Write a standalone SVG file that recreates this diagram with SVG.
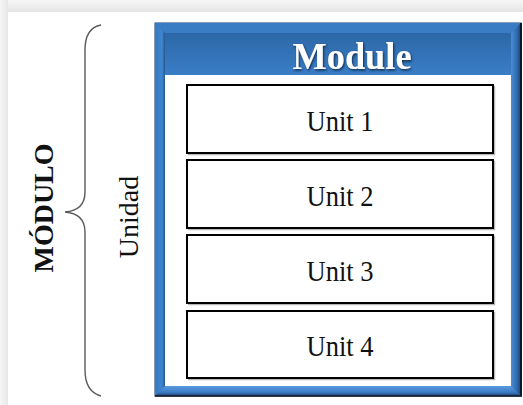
<svg xmlns="http://www.w3.org/2000/svg" width="523" height="405" viewBox="0 0 523 405">
  <defs>
    <linearGradient id="topShade" x1="0" y1="0" x2="0" y2="1">
      <stop offset="0" stop-color="#f6f6f6"/>
      <stop offset="1" stop-color="#e4e4e4"/>
    </linearGradient>
    <linearGradient id="leftShade" x1="0" y1="0" x2="1" y2="0">
      <stop offset="0" stop-color="#f6f6f6"/>
      <stop offset="1" stop-color="#e6e6e6"/>
    </linearGradient>
    <linearGradient id="headerFill" x1="0" y1="0" x2="0" y2="1">
      <stop offset="0" stop-color="#2c67a6"/>
      <stop offset="1" stop-color="#3a7ec7"/>
    </linearGradient>
    <linearGradient id="rightBevel" x1="0" y1="0" x2="1" y2="0">
      <stop offset="0" stop-color="#4a8cd4"/>
      <stop offset="0.6" stop-color="#2d6aae"/>
      <stop offset="1" stop-color="#1b3f6e"/>
    </linearGradient>
    <linearGradient id="bottomBevel" x1="0" y1="0" x2="0" y2="1">
      <stop offset="0" stop-color="#5a9be0"/>
      <stop offset="0.6" stop-color="#3b7ec6"/>
      <stop offset="1" stop-color="#1d4272"/>
    </linearGradient>
    <linearGradient id="leftBevel" x1="0" y1="0" x2="1" y2="0">
      <stop offset="0" stop-color="#3479c2"/>
      <stop offset="0.7" stop-color="#3f85cf"/>
      <stop offset="1" stop-color="#24588f"/>
    </linearGradient>
    <filter id="titleShadow" x="-10%" y="-20%" width="120%" height="140%">
      <feDropShadow dx="1" dy="1.5" stdDeviation="0.8" flood-color="#0d2240" flood-opacity="0.9"/>
    </filter>
  </defs>
  <style>
    .unit { fill: #ffffff; stroke: #000000; stroke-width: 2; }
    .unitShadow { fill: none; stroke: #b8b8b8; stroke-width: 1.5; }
    .unitLabel { font-family: "Liberation Serif", "Times New Roman", serif; font-size: 30px; fill: #111111; text-anchor: middle; }
    .title { font-family: "Liberation Serif", "Times New Roman", serif; font-size: 38px; font-weight: bold; fill: #ffffff; text-anchor: middle; }
    .sideBold { font-family: "Liberation Serif", "Times New Roman", serif; font-size: 28px; font-weight: bold; fill: #111111; text-anchor: middle; }
    .side { font-family: "Liberation Serif", "Times New Roman", serif; font-size: 28px; fill: #111111; text-anchor: middle; }
    .brace { fill: none; stroke: #5a5a5a; stroke-width: 1.4; }
  </style>

  <!-- page background with soft grey margin -->
  <rect x="0" y="0" width="523" height="405" fill="#ffffff"/>
  <rect x="0" y="0" width="523" height="12" fill="url(#topShade)"/>
  <rect x="0" y="0" width="8" height="405" fill="url(#leftShade)"/>

  <!-- side labels -->
  <g id="label-modulo">
    <text class="sideBold" transform="translate(53,208) rotate(-90)">MÓDULO</text>
  </g>
  <g id="label-unidad">
    <text class="side" transform="translate(138,217) rotate(-90)">Unidad</text>
  </g>

  <!-- curly brace spanning the module -->
  <g id="connectors">
    <path class="brace" d="M101,25 C90,27 85,35 85,50 L85,192 C85,204 78,211 65,212 C78,213 85,220 85,232 L85,370 C85,385 90,393 101,396"/>
  </g>

  <!-- module frame -->
  <g id="module">
    <rect x="155" y="23" width="366" height="373" fill="#2f73b8" stroke="#1a3a66" stroke-width="1"/>
    <!-- bevels -->
    <polygon points="155,23 521,23 511,33 165,33" fill="#3a7dc4"/>
    <polygon points="155,23 165,33 165,386 155,396" fill="url(#leftBevel)"/>
    <polygon points="521,23 521,396 511,386 511,33" fill="url(#rightBevel)"/>
    <polygon points="155,396 165,386 511,386 521,396" fill="url(#bottomBevel)"/>
    <rect x="165" y="33" width="346" height="42" fill="url(#headerFill)"/>
    <line x1="521" y1="23" x2="521" y2="396" stroke="#101826" stroke-width="2"/>
    <line x1="155" y1="396" x2="522" y2="396" stroke="#101826" stroke-width="1.5"/>
    <rect x="165" y="75" width="346" height="311" fill="#ffffff"/>
    <text class="title" x="352" y="69" textLength="119" lengthAdjust="spacingAndGlyphs" filter="url(#titleShadow)">Module</text>
  </g>

  <g id="unit-1">
    <rect class="unitShadow" x="188.5" y="86.5" width="306" height="68"/>
    <rect class="unit" x="187" y="85" width="306" height="68"/>
    <text class="unitLabel" x="340" y="131" textLength="67" lengthAdjust="spacingAndGlyphs">Unit 1</text>
  </g>
  <g id="unit-2">
    <rect class="unitShadow" x="188.5" y="161.5" width="306" height="68"/>
    <rect class="unit" x="187" y="160" width="306" height="68"/>
    <text class="unitLabel" x="340" y="206" textLength="67" lengthAdjust="spacingAndGlyphs">Unit 2</text>
  </g>
  <g id="unit-3">
    <rect class="unitShadow" x="188.5" y="236.5" width="306" height="68"/>
    <rect class="unit" x="187" y="235" width="306" height="68"/>
    <text class="unitLabel" x="340" y="281" textLength="67" lengthAdjust="spacingAndGlyphs">Unit 3</text>
  </g>
  <g id="unit-4">
    <rect class="unitShadow" x="188.5" y="312.5" width="306" height="67"/>
    <rect class="unit" x="187" y="311" width="306" height="67"/>
    <text class="unitLabel" x="340" y="356" textLength="67" lengthAdjust="spacingAndGlyphs">Unit 4</text>
  </g>
</svg>
